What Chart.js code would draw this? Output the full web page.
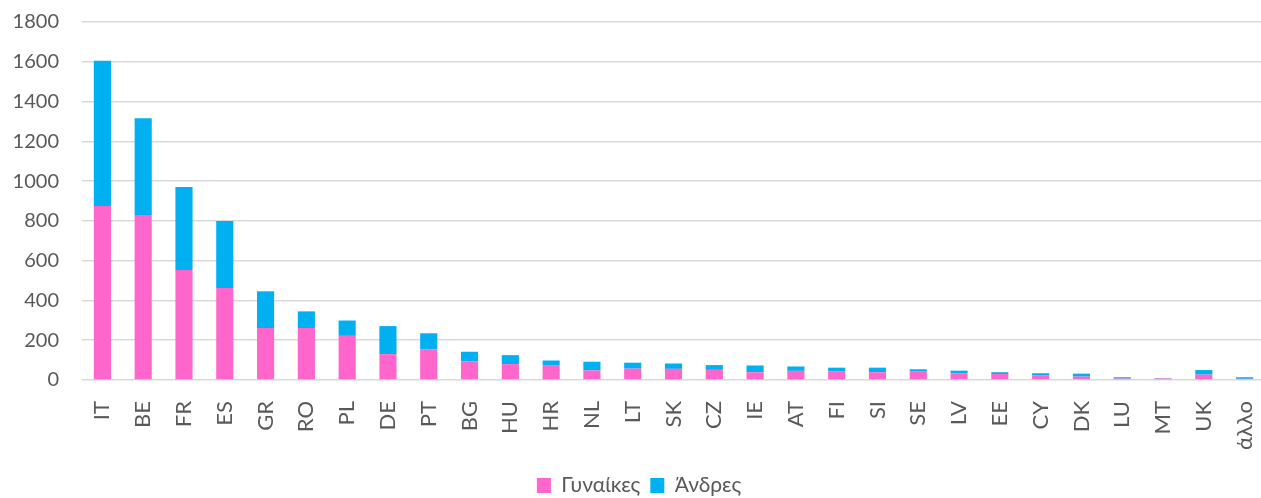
<!DOCTYPE html>
<html>
<head>
<meta charset="utf-8">
<script src="https://cdn.jsdelivr.net/npm/chart.js@4/dist/chart.umd.min.js"></script>
<style>
    html, body { margin: 0; padding: 0; background: #fff; overflow: hidden; }
    /* a bit taller than the window: the legend padding below it gets cut off */
    #wrap { position: relative; width: 1265px; height: 506px; }
</style>
</head>
<body>
<div id="wrap"><canvas id="chart"></canvas></div>
<script>
const countries = ['IT', 'BE', 'FR', 'ES', 'GR', 'RO', 'PL', 'DE', 'PT', 'BG', 'HU', 'HR', 'NL', 'LT', 'SK',
    'CZ', 'IE', 'AT', 'FI', 'SI', 'SE', 'LV', 'EE', 'CY', 'DK', 'LU', 'MT', 'UK', 'άλλο'];
const women = [875, 830, 553, 462, 261, 261, 222, 130, 153, 93, 80, 75, 48, 57, 56,
    51, 39, 46, 44, 39, 42, 34, 30, 22, 17, 7, 8, 27, 6];
const men = [730, 486, 417, 337, 185, 84, 77, 141, 82, 49, 45, 23, 44, 30, 27,
    24, 34, 22, 18, 23, 12, 13, 9, 12, 15, 7, 2, 23, 8];
const yTicks = [0, 200, 400, 600, 800, 1000, 1200, 1400, 1600, 1800];

const fontFamily = 'Lato, "Open Sans", sans-serif';
const textColor = '#595959';

document.addEventListener('DOMContentLoaded', () => {
    const ctx = document.getElementById('chart').getContext('2d');
    new Chart(ctx, {
        type: 'bar',
        data: {
            labels: countries,
            datasets: [
                { label: 'Γυναίκες', data: women, backgroundColor: '#FF66CC', borderWidth: 0 },
                { label: 'Άνδρες', data: men, backgroundColor: '#00B0F0', borderWidth: 0 }
            ]
        },
        options: {
            responsive: true,
            maintainAspectRatio: false,
            animation: false,
            layout: { padding: { left: 13, top: 22, right: 0, bottom: 0 } },
            datasets: { bar: { barPercentage: 0.42, categoryPercentage: 1 } },
            scales: {
                x: {
                    stacked: true,
                    grid: { display: false },
                    border: { display: false },
                    afterFit: scale => {
                        scale.paddingLeft = 0;
                        scale.paddingRight = 0;
                        scale.height = 85;
                    },
                    ticks: {
                        color: textColor,
                        font: { family: fontFamily, size: 22 },
                        maxRotation: 90,
                        minRotation: 90,
                        padding: 13,
                        autoSkip: false
                    }
                },
                y: {
                    stacked: true,
                    min: 0,
                    max: yTicks[yTicks.length - 1],
                    afterBuildTicks: axis => { axis.ticks = yTicks.map(v => ({ value: v })); },
                    afterFit: scale => {
                        scale.paddingTop = 0;
                        scale.paddingBottom = 0;
                        scale.width = 69;
                    },
                    grid: { color: '#d9d9d9', lineWidth: 1.5, drawTicks: false },
                    border: { display: false },
                    ticks: {
                        color: textColor,
                        font: { family: fontFamily, size: 20 },
                        padding: 23,
                        callback: value => String(value)
                    }
                }
            },
            plugins: {
                legend: {
                    position: 'bottom',
                    labels: {
                        color: textColor,
                        font: { family: fontFamily, size: 21 },
                        boxWidth: 14,
                        boxHeight: 15,
                        padding: 10
                    }
                },
                tooltip: { enabled: false }
            }
        }
    });
});
</script>
</body>
</html>
